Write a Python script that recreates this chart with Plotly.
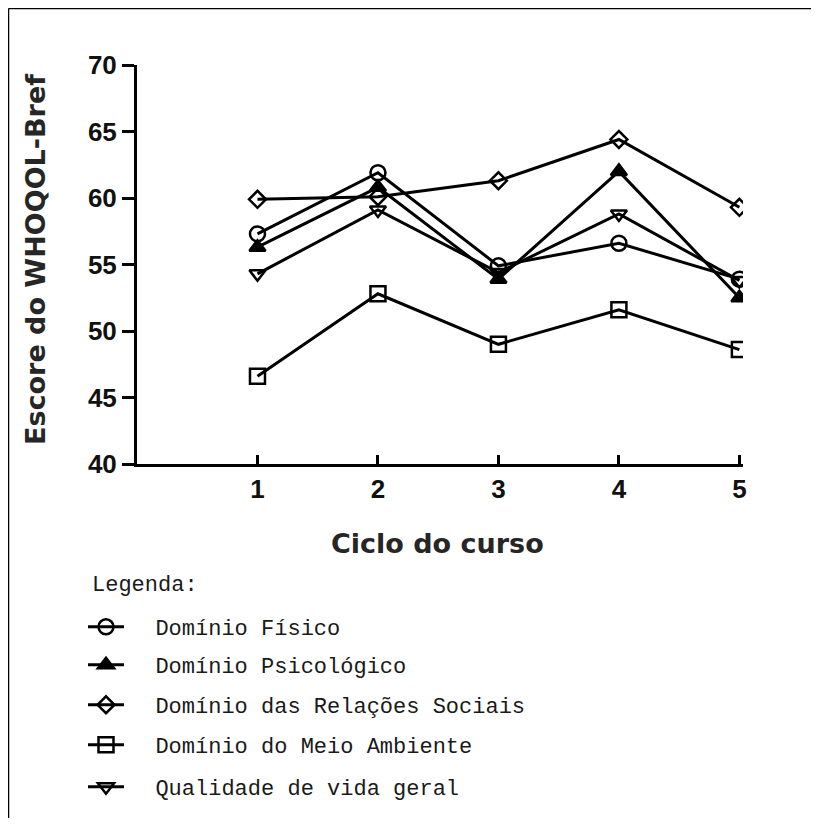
import plotly.graph_objects as go

ciclos = [1, 2, 3, 4, 5]
fisico = [57.3, 61.9, 54.9, 56.6, 53.9]
psicologico = [56.3, 60.8, 53.9, 62.0, 52.5]
relacoes = [59.9, 60.1, 61.3, 64.4, 59.3]
meio_ambiente = [46.6, 52.8, 49.0, 51.6, 48.6]
qualidade = [54.3, 59.1, 54.4, 58.8, 53.8]

nomes = ["Domínio Físico", "Domínio Psicológico", "Domínio das Relações Sociais",
         "Domínio do Meio Ambiente", "Qualidade de vida geral"]
series = [fisico, psicologico, relacoes, meio_ambiente, qualidade]
simbolos = ["circle-open", "triangle-up", "diamond-open", "square-open", "triangle-down-open"]
tamanhos = [15, 14, 13, 15, 14]
y_ticks = [40, 45, 50, 55, 60, 65, 70]
x_ticks = ["1", "2", "3", "4", "5"]

# page is drawn with an 8px body offset; keep the figure inside the window
W, H = 803, 810
L, R, T, B = 129, 735, 57, 456
legend_rows = [619, 657, 697, 737, 779]


def px(x):
    return (x - L) / (R - L)


def py(y):
    return (B - y) / (B - T)


fig = go.Figure()
for i, (nome, vals, sim, sz) in enumerate(zip(nomes, series, simbolos, tamanhos)):
    lg = "legend" if i == 0 else f"legend{i+1}"
    fig.add_trace(go.Scatter(
        x=ciclos, y=vals, name="\u00a0\u00a0" + nome, mode="lines+markers",
        line=dict(color="black", width=3),
        marker=dict(symbol=sim, size=sz, color="black",
                    line=dict(color="black", width=2.5)),
        legend=lg,
    ))

leg_font = dict(family="Liberation Mono", size=22, color="#1a1a1a")
layout_legends = {}
for i, row in enumerate(legend_rows):
    key = "legend" if i == 0 else f"legend{i+1}"
    layout_legends[key] = dict(
        x=75 / W, y=1 - row / H, xref="container", yref="container",
        xanchor="left", yanchor="middle", font=leg_font,
        bgcolor="rgba(0,0,0,0)", borderwidth=0, itemwidth=36,
    )

title_font = dict(family="DejaVu Sans", size=27, color="#262626", weight="bold")
tick_font = dict(family="Liberation Sans", size=26, color="#111", weight="bold")

fig.update_layout(
    width=W, height=H,
    margin=dict(l=L, r=W - R, t=T, b=H - B, autoexpand=False),
    plot_bgcolor="white", paper_bgcolor="white",
    showlegend=True,
    **layout_legends,
    xaxis=dict(
        range=[0, 5.03], tickvals=ciclos, ticktext=x_ticks,
        showgrid=False, zeroline=False,
        showline=True, linecolor="black", linewidth=3,
        ticks="inside", ticklen=9, tickwidth=3, tickcolor="black",
        tickfont=tick_font,
    ),
    yaxis=dict(
        range=[40, 70], tickvals=y_ticks,
        showgrid=False, zeroline=False,
        showline=True, linecolor="black", linewidth=3,
        ticks="outside", ticklen=12, tickwidth=3, tickcolor="black",
        tickfont=tick_font,
    ),
    annotations=[
        dict(text="Legenda:", xref="paper", yref="paper",
             x=px(82), y=py(577), xanchor="left", yanchor="middle",
             showarrow=False, font=leg_font),
        dict(text="Ciclo do curso", xref="paper", yref="paper",
             x=px(429), y=py(535), xanchor="center", yanchor="middle",
             showarrow=False, font=title_font),
        dict(text="Escore do WHOQOL-Bref", xref="paper", yref="paper",
             x=px(27), y=py(252), xanchor="center", yanchor="middle",
             textangle=-90, showarrow=False, font=title_font),
    ],
    shapes=[
        dict(type="line", xref="paper", yref="paper",
             x0=px(0.5), x1=px(W), y0=py(0.5), y1=py(0.5),
             line=dict(color="black", width=1.5)),
        dict(type="line", xref="paper", yref="paper",
             x0=px(0.5), x1=px(0.5), y0=py(0.5), y1=py(H),
             line=dict(color="black", width=1.5)),
    ],
)

fig.write_html("out.html")
